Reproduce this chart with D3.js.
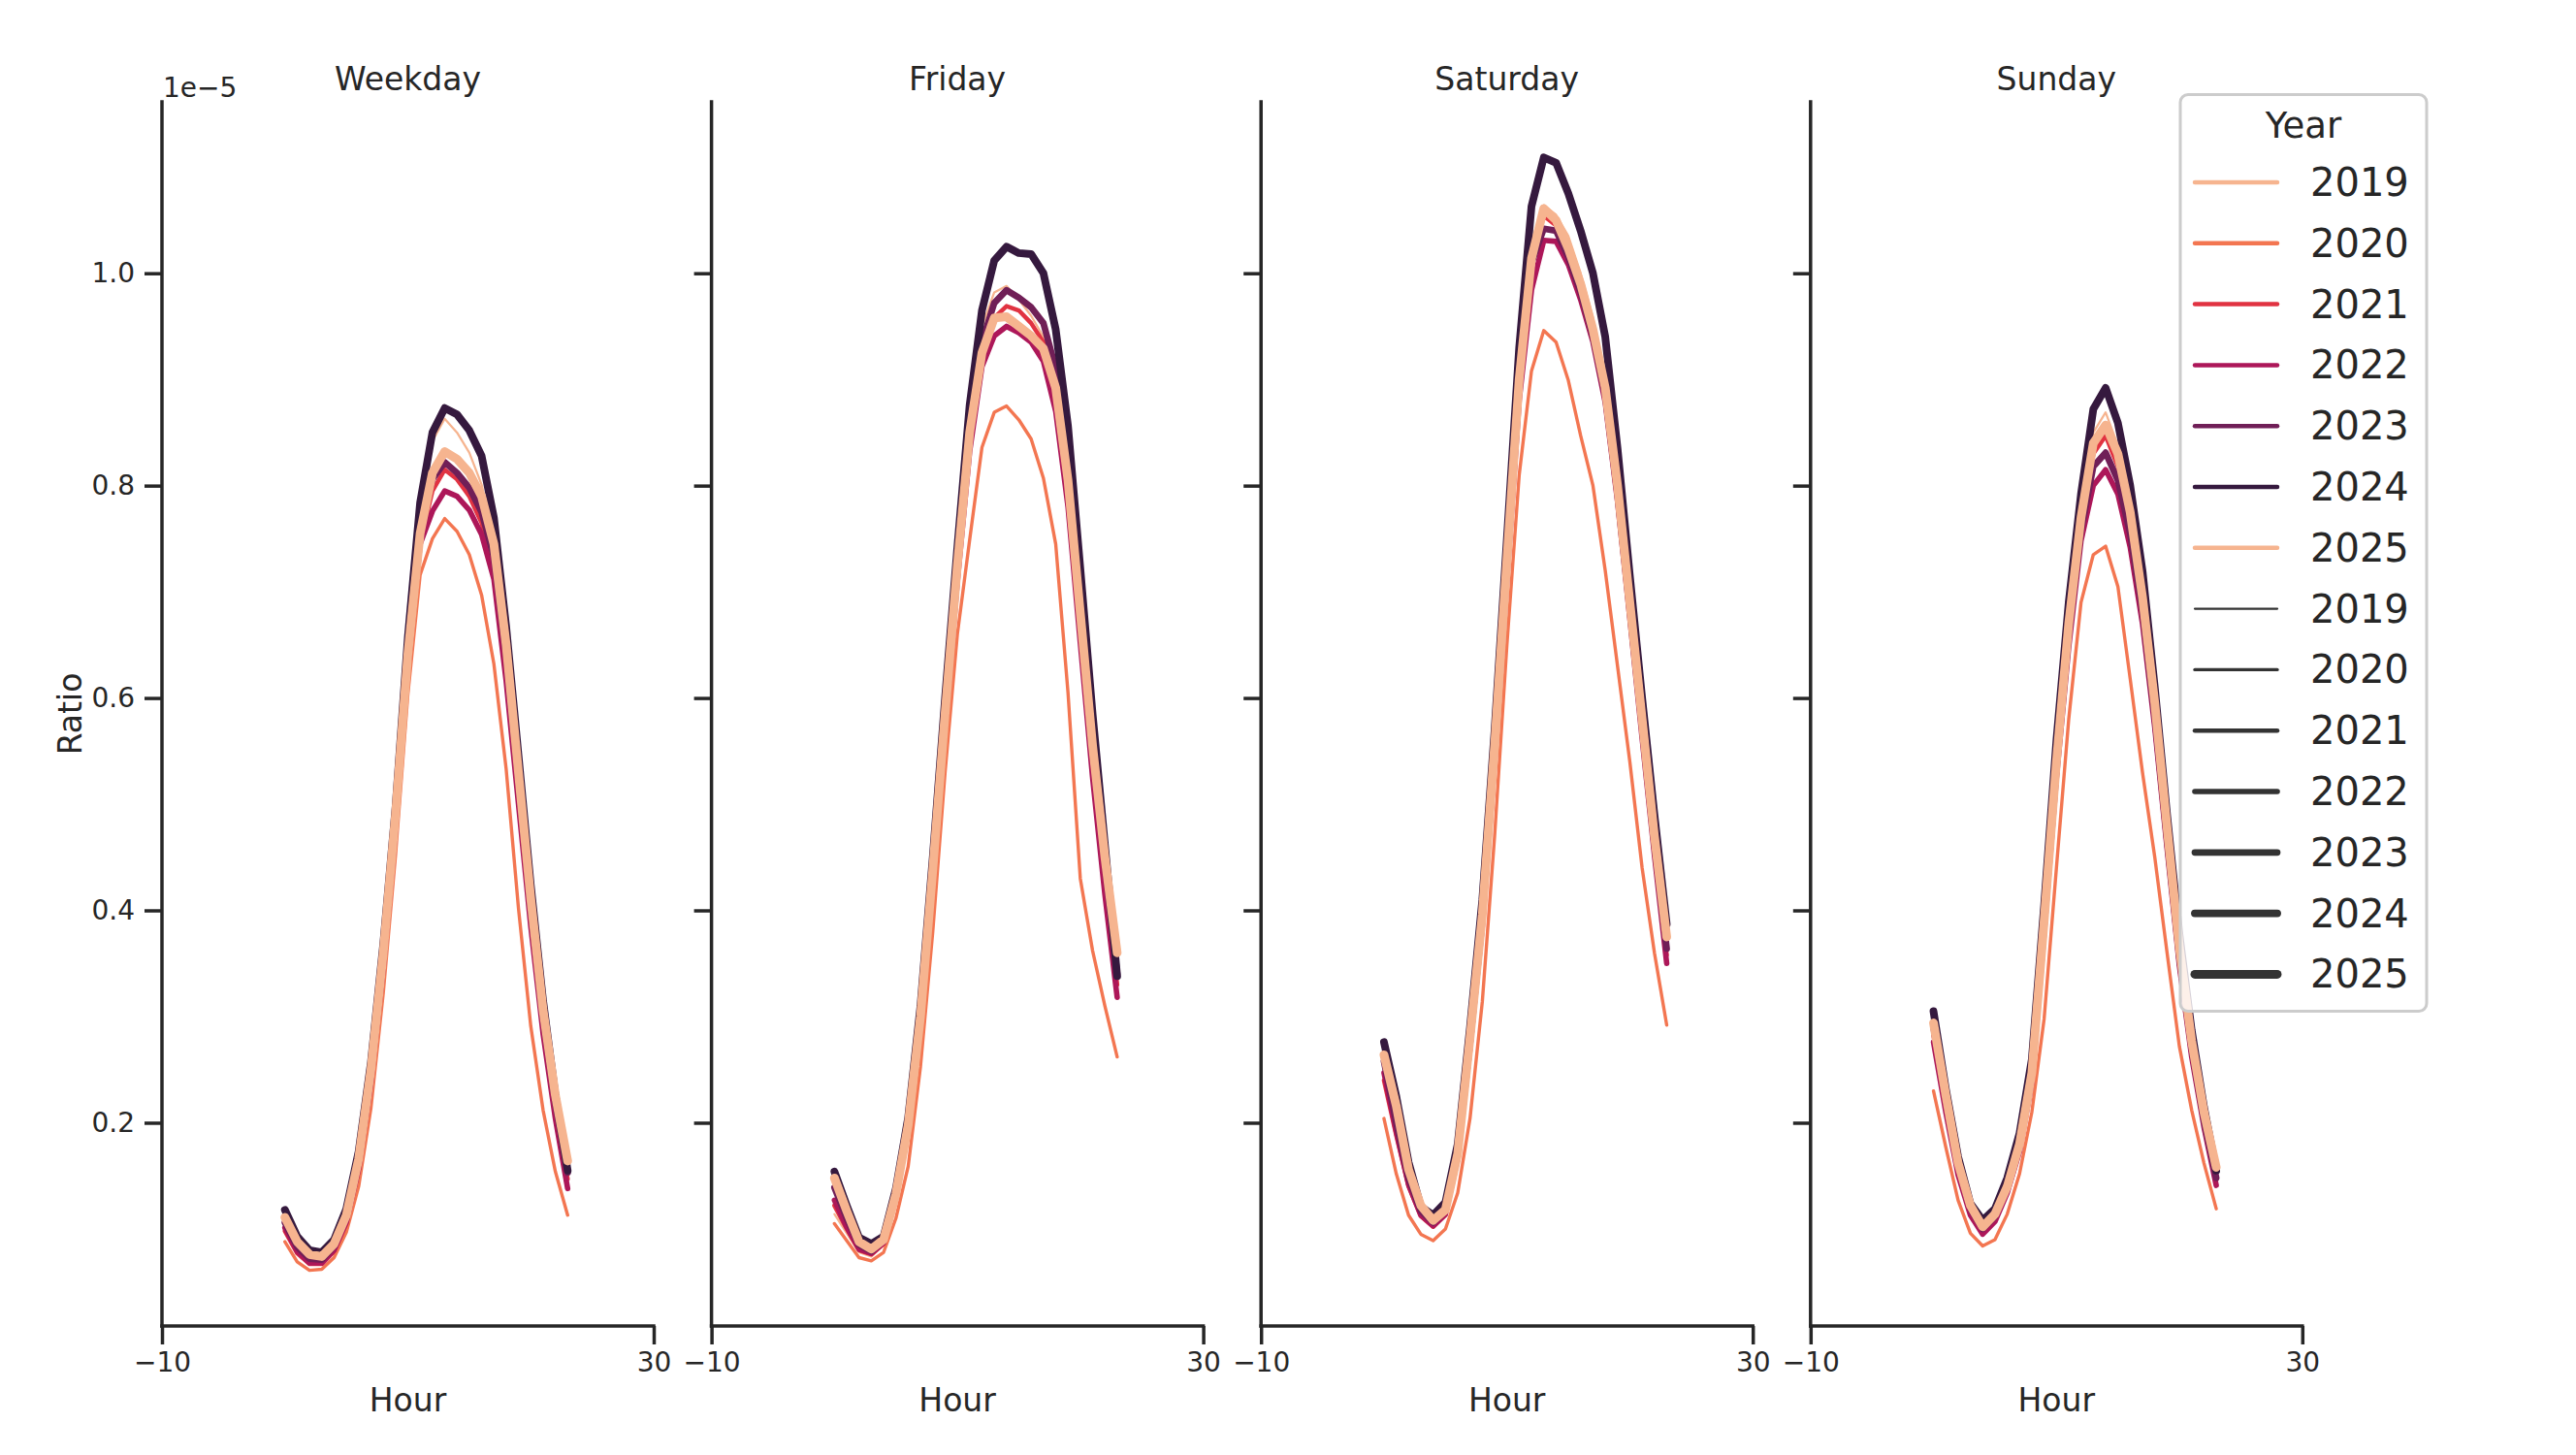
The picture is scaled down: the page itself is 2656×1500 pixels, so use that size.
<!DOCTYPE html>
<html><head><meta charset="utf-8">
<script src="https://cdn.jsdelivr.net/npm/d3@7/dist/d3.min.js"></script>
<style>
body{margin:0;background:#fff}
svg{display:block}
text{font-family:"DejaVu Sans",sans-serif;fill:#262626}
</style>
</head><body>
<svg id="chart" width="2656" height="1500"></svg>
<script>
// ---------- data (Ratio values in units of 1e-5) ----------
const panels = ["Weekday", "Friday", "Saturday", "Sunday"];
const years = [2019, 2020, 2021, 2022, 2023, 2024, 2025];
const hours = [0,1,2,3,4,5,6,7,8,9,10,11,12,13,14,15,16,17,18,19,20,21,22,23];
const yTickValues = [0.2, 0.4, 0.6, 0.8, 1.0];
const xTickValues = [-10, 30];
const xDomain = [-10, 30];

const weekday2019 = [0.106,0.084,0.072,0.071,0.083,0.111,0.165,0.250,0.362,0.493,0.648,0.772,0.842,0.863,0.850,0.831,0.801,0.752,0.655,0.535,0.416,0.311,0.229,0.166];
const weekday2020 = [0.088,0.069,0.061,0.062,0.073,0.097,0.140,0.214,0.322,0.452,0.603,0.716,0.750,0.769,0.757,0.735,0.697,0.632,0.533,0.402,0.291,0.212,0.154,0.113];
const weekday2021 = [0.098,0.077,0.067,0.067,0.079,0.105,0.155,0.236,0.344,0.474,0.627,0.746,0.795,0.815,0.806,0.790,0.765,0.722,0.628,0.510,0.393,0.291,0.211,0.147];
const weekday2022 = [0.101,0.079,0.068,0.068,0.080,0.107,0.157,0.238,0.346,0.476,0.628,0.745,0.776,0.795,0.790,0.777,0.754,0.712,0.616,0.500,0.385,0.284,0.204,0.138];
const weekday2023 = [0.106,0.083,0.072,0.071,0.084,0.111,0.163,0.246,0.356,0.487,0.641,0.760,0.806,0.822,0.812,0.798,0.775,0.733,0.640,0.522,0.403,0.299,0.219,0.153];
const weekday2024 = [0.118,0.093,0.080,0.078,0.090,0.119,0.173,0.257,0.368,0.497,0.657,0.784,0.850,0.873,0.867,0.852,0.828,0.770,0.667,0.546,0.424,0.315,0.226,0.155];
const weekday2025 = [0.111,0.088,0.076,0.074,0.086,0.113,0.166,0.250,0.360,0.490,0.641,0.755,0.812,0.832,0.825,0.812,0.790,0.745,0.650,0.530,0.411,0.306,0.226,0.164];

const friday2019 = [0.114,0.096,0.078,0.074,0.085,0.127,0.192,0.293,0.432,0.582,0.726,0.860,0.950,0.982,0.988,0.975,0.960,0.940,0.895,0.805,0.675,0.545,0.430,0.330];
const friday2020 = [0.105,0.089,0.073,0.070,0.078,0.110,0.159,0.253,0.380,0.530,0.660,0.749,0.836,0.869,0.875,0.862,0.844,0.807,0.745,0.605,0.430,0.362,0.310,0.262];
const friday2021 = [0.122,0.100,0.080,0.076,0.086,0.128,0.192,0.292,0.428,0.575,0.715,0.840,0.925,0.958,0.969,0.965,0.953,0.935,0.890,0.800,0.672,0.545,0.432,0.330];
const friday2022 = [0.127,0.102,0.081,0.077,0.087,0.129,0.193,0.292,0.428,0.573,0.710,0.832,0.912,0.941,0.950,0.944,0.935,0.917,0.870,0.780,0.652,0.525,0.415,0.318];
const friday2023 = [0.139,0.110,0.085,0.079,0.089,0.132,0.197,0.298,0.436,0.584,0.724,0.852,0.935,0.972,0.984,0.977,0.968,0.953,0.910,0.820,0.690,0.560,0.445,0.340];
const friday2024 = [0.154,0.122,0.092,0.086,0.093,0.138,0.205,0.310,0.450,0.600,0.742,0.876,0.965,1.012,1.025,1.019,1.018,1.000,0.947,0.856,0.722,0.585,0.462,0.338];
const friday2025 = [0.148,0.117,0.088,0.081,0.090,0.133,0.198,0.300,0.438,0.585,0.725,0.850,0.925,0.958,0.959,0.950,0.941,0.929,0.892,0.805,0.680,0.555,0.450,0.360];

const saturday2019 = [0.250,0.195,0.145,0.115,0.104,0.115,0.168,0.275,0.392,0.552,0.728,0.905,1.030,1.064,1.055,1.035,1.000,0.958,0.895,0.798,0.688,0.575,0.465,0.370];
const saturday2020 = [0.204,0.152,0.113,0.095,0.089,0.100,0.134,0.204,0.314,0.470,0.650,0.810,0.908,0.946,0.935,0.899,0.847,0.800,0.720,0.630,0.540,0.440,0.360,0.292];
const saturday2021 = [0.240,0.188,0.140,0.112,0.102,0.113,0.165,0.270,0.388,0.545,0.720,0.893,1.015,1.054,1.045,1.020,0.985,0.942,0.884,0.790,0.680,0.568,0.458,0.358];
const saturday2022 = [0.247,0.192,0.142,0.113,0.103,0.114,0.166,0.270,0.385,0.540,0.712,0.880,0.984,1.031,1.030,1.008,0.975,0.935,0.878,0.785,0.675,0.562,0.452,0.350];
const saturday2023 = [0.258,0.200,0.148,0.117,0.106,0.117,0.170,0.276,0.394,0.552,0.727,0.895,1.010,1.042,1.040,1.015,0.982,0.940,0.885,0.792,0.683,0.572,0.462,0.364];
const saturday2024 = [0.276,0.225,0.163,0.121,0.113,0.125,0.180,0.290,0.410,0.570,0.750,0.930,1.063,1.109,1.104,1.075,1.040,1.000,0.940,0.835,0.715,0.600,0.490,0.387];
const saturday2025 = [0.264,0.216,0.156,0.122,0.108,0.118,0.171,0.280,0.396,0.555,0.730,0.900,1.014,1.061,1.050,1.023,0.990,0.947,0.892,0.800,0.690,0.580,0.470,0.375];

const sunday2019 = [0.285,0.218,0.156,0.116,0.098,0.110,0.137,0.178,0.244,0.388,0.540,0.672,0.778,0.850,0.869,0.838,0.780,0.698,0.594,0.476,0.362,0.274,0.206,0.152];
const sunday2020 = [0.230,0.177,0.127,0.096,0.084,0.090,0.114,0.152,0.210,0.298,0.440,0.580,0.690,0.735,0.743,0.705,0.618,0.530,0.450,0.360,0.272,0.212,0.162,0.119];
const sunday2021 = [0.282,0.215,0.155,0.115,0.097,0.109,0.136,0.176,0.241,0.382,0.532,0.660,0.762,0.830,0.847,0.818,0.765,0.688,0.586,0.470,0.358,0.270,0.203,0.146];
const sunday2022 = [0.276,0.210,0.151,0.113,0.095,0.107,0.134,0.173,0.238,0.378,0.525,0.648,0.748,0.800,0.815,0.792,0.742,0.670,0.572,0.458,0.348,0.262,0.196,0.141];
const sunday2023 = [0.290,0.222,0.160,0.119,0.100,0.112,0.139,0.179,0.245,0.387,0.535,0.660,0.758,0.818,0.831,0.805,0.755,0.682,0.582,0.467,0.356,0.270,0.202,0.148];
const sunday2024 = [0.305,0.232,0.168,0.124,0.108,0.119,0.148,0.190,0.260,0.405,0.560,0.690,0.792,0.872,0.892,0.859,0.800,0.720,0.610,0.490,0.378,0.287,0.215,0.155];
const sunday2025 = [0.294,0.226,0.162,0.122,0.102,0.114,0.140,0.180,0.247,0.390,0.540,0.670,0.770,0.840,0.857,0.830,0.775,0.695,0.595,0.478,0.365,0.277,0.210,0.158];

// ---------- styles ----------
const yearColors = ["#f6b48f","#f37651","#e13342","#ad1759","#701f57","#35193e","#f6b48f"];
const yearWidths = [2.25, 3.4, 4.5, 5.6, 6.75, 7.9, 9];
const legendColorWidth = 4.5;
const ink = "#262626";

const panelSeries = [
  [weekday2019, weekday2020, weekday2021, weekday2022, weekday2023, weekday2024, weekday2025],
  [friday2019, friday2020, friday2021, friday2022, friday2023, friday2024, friday2025],
  [saturday2019, saturday2020, saturday2021, saturday2022, saturday2023, saturday2024, saturday2025],
  [sunday2019, sunday2020, sunday2021, sunday2022, sunday2023, sunday2024, sunday2025]
];

(function draw() {
  const svg = d3.select("#chart");
  const plotTop = 105, plotBottom = 1367;
  const left0 = 167, panelW = 507, step = 566.6;

  const allVals = panelSeries.flat(2);
  const [vmin, vmax] = d3.extent(allVals);
  const pad = (vmax - vmin) * 0.05;
  const y = d3.scaleLinear().domain([vmin - pad, vmax + pad]).range([plotBottom, plotTop]);

  panels.forEach((name, pi) => {
    const L = left0 + pi * step;
    const x = d3.scaleLinear().domain(xDomain).range([L, L + panelW]);
    const g = svg.append("g");

    const line = d3.line().x((d, i) => x(hours[i])).y(d => y(d));
    panelSeries[pi].forEach((vals, yi) => {
      g.append("path")
        .attr("d", line(vals))
        .attr("fill", "none")
        .attr("stroke", yearColors[yi])
        .attr("stroke-width", yearWidths[yi])
        .attr("stroke-linejoin", "round")
        .attr("stroke-linecap", "round");
    });

    const ya = d3.axisLeft(y).tickValues(yTickValues).tickSize(18).tickPadding(10)
      .tickFormat(pi === 0 ? d3.format(".1f") : () => "");
    const yg = svg.append("g").attr("transform", `translate(${L},0)`).call(ya);
    yg.select(".domain").remove();
    yg.append("line").attr("x1", 0).attr("x2", 0).attr("y1", plotTop).attr("y2", plotBottom)
      .attr("stroke", ink).attr("stroke-width", 3.5).attr("stroke-linecap", "square");
    yg.selectAll(".tick line").attr("stroke", ink).attr("stroke-width", 3.5);
    yg.selectAll(".tick text").attr("font-size", 28).attr("fill", ink)
      .attr("font-family", "DejaVu Sans");

    const xa = d3.axisBottom(x).tickValues(xTickValues).tickSize(19).tickPadding(8)
      .tickFormat(d => d < 0 ? "\u2212" + Math.abs(d) : String(d));
    const xg = svg.append("g").attr("transform", `translate(0,${plotBottom})`).call(xa);
    xg.select(".domain").remove();
    xg.append("line").attr("x1", x(xDomain[0])).attr("x2", x(xDomain[1])).attr("y1", 0).attr("y2", 0)
      .attr("stroke", ink).attr("stroke-width", 3.5).attr("stroke-linecap", "square");
    xg.selectAll(".tick line").attr("stroke", ink).attr("stroke-width", 3.5);
    xg.selectAll(".tick text").attr("font-size", 28).attr("fill", ink)
      .attr("font-family", "DejaVu Sans");

    svg.append("text").attr("x", L + panelW / 2).attr("y", 93).attr("text-anchor", "middle")
      .attr("font-size", 33).text(name);
    svg.append("text").attr("x", L + panelW / 2).attr("y", 1455).attr("text-anchor", "middle")
      .attr("font-size", 33).text("Hour");
  });

  svg.append("text").attr("transform", "translate(84,736) rotate(-90)").attr("text-anchor", "middle")
    .attr("font-size", 33).text("Ratio");
  svg.append("text").attr("x", 168).attr("y", 100).attr("font-size", 28).text("1e\u22125");

  const lg = svg.append("g");
  lg.append("rect").attr("x", 2248).attr("y", 97.5).attr("width", 254).attr("height", 945)
    .attr("rx", 8).attr("fill", "rgba(255,255,255,0.8)").attr("stroke", "#cccccc").attr("stroke-width", 3);
  lg.append("text").attr("x", 2375).attr("y", 142).attr("text-anchor", "middle")
    .attr("font-size", 37).text("Year");
  const entries = years.map((yr, i) => ({label: yr, color: yearColors[i], width: legendColorWidth}))
    .concat(years.map((yr, i) => ({label: yr, color: "#333333", width: yearWidths[i]})));
  entries.forEach((e, i) => {
    const cy = 188 + i * 62.8;
    lg.append("line").attr("x1", 2263).attr("x2", 2348).attr("y1", cy).attr("y2", cy)
      .attr("stroke", e.color).attr("stroke-width", e.width).attr("stroke-linecap", "round");
    lg.append("text").attr("x", 2382).attr("y", cy + 14).attr("font-size", 40).text(e.label);
  });
})();
</script>
</body></html>
